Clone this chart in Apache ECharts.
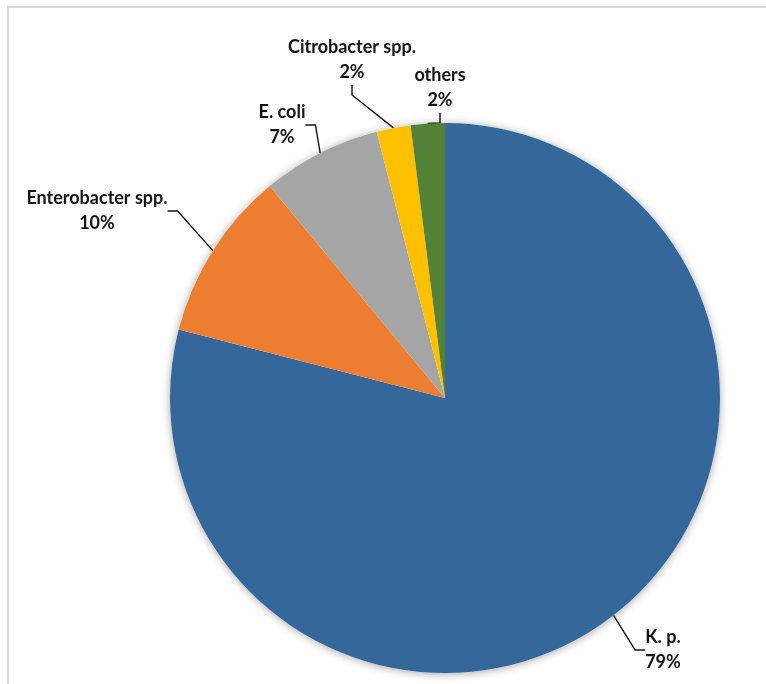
<!DOCTYPE html>
<html>
<head>
<meta charset="utf-8">
<script src="https://cdn.jsdelivr.net/npm/echarts@6/dist/echarts.min.js"></script>
<style>
  html, body { margin: 0; padding: 0; background: #fff; }
  #frame {
    position: absolute; left: 7px; top: 6px; width: 770px; height: 690px;
    border-top: 2px solid #d9d9d9; border-left: 2px solid #d9d9d9;
  }
  #chart { position: absolute; left: 0; top: 0; width: 766px; height: 684px; }
</style>
</head>
<body>
<div id="frame"></div>
<div id="chart"></div>
<script>
// Share of isolates by organism (percent)
const categories = ['K. p.', 'Enterobacter spp.', 'E. coli', 'Citrobacter spp.', 'others'];
const shares = [79, 10, 7, 2, 2];
const colors = ['#34679A', '#ED7D31', '#A5A5A5', '#FFC000', '#538135'];

// Label block centres (px) for each slice, in category order
const labelSpots = [[663, 650], [97, 211], [282, 125], [352, 60], [440, 88]];

const chart = echarts.init(document.getElementById('chart'), null, { renderer: 'canvas' });

const center = [445, 398];
const radius = 275;

chart.setOption({
  animation: false,
  backgroundColor: 'transparent',
  series: [
    {
      // soft drop shadow under the whole disc
      type: 'pie',
      silent: true,
      center: center,
      radius: radius,
      z: 1,
      label: { show: false },
      labelLine: { show: false },
      itemStyle: {
        color: '#ffffff',
        shadowBlur: 9,
        shadowColor: 'rgba(0,0,0,0.35)',
        shadowOffsetX: 0,
        shadowOffsetY: 1
      },
      data: [{ value: 1, name: '' }]
    },
    {
      type: 'pie',
      center: center,
      radius: radius,
      startAngle: 90,
      clockwise: true,
      z: 2,
      avoidLabelOverlap: false,
      itemStyle: { borderWidth: 0 },
      label: {
        show: true,
        position: 'outside',
        formatter: '{b}\n{d}%',
        fontFamily: 'Lato, "Noto Sans", sans-serif',
        fontWeight: 'bold',
        fontSize: 18,
        lineHeight: 25,
        color: '#141414',
        align: 'center'
      },
      labelLine: {
        show: true,
        length: 20,
        length2: 10,
        lineStyle: { color: '#141414', width: 1.4 }
      },
      labelLayout: function (params) {
        const p = labelSpots[params.dataIndex];
        return {
          x: p[0],
          y: p[1],
          align: 'center',
          verticalAlign: 'middle'
        };
      },
      data: categories.map((name, i) => ({
        name: name,
        value: shares[i],
        itemStyle: { color: colors[i] }
      }))
    }
  ]
});
</script>
</body>
</html>
